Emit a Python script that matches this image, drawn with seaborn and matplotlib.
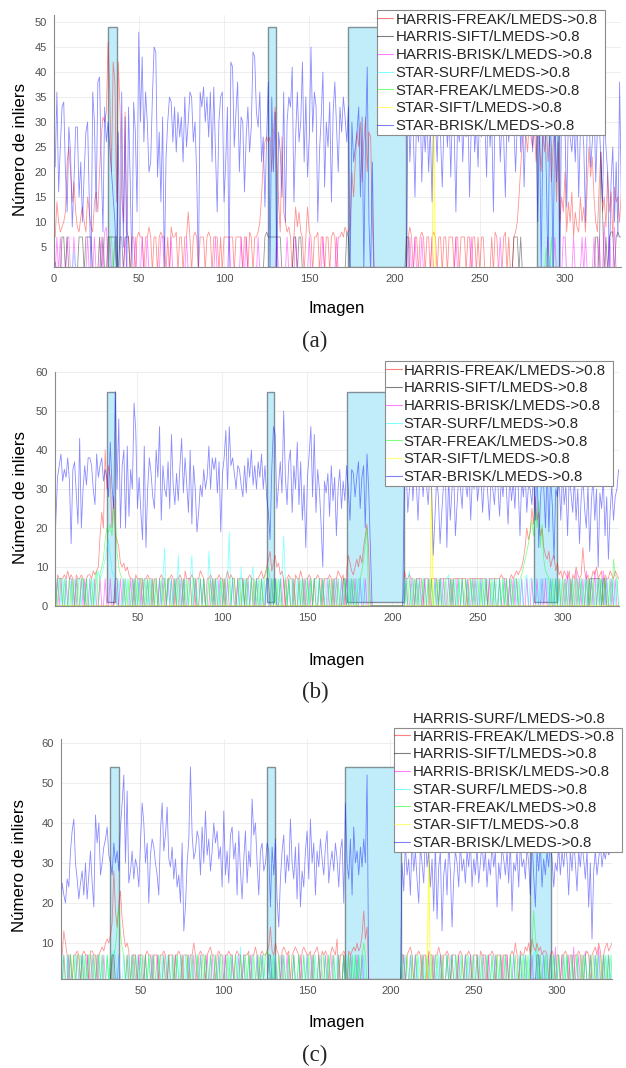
import numpy as np
import matplotlib
matplotlib.use("Agg")
import matplotlib.pyplot as plt
import seaborn as sns
from matplotlib.patches import Rectangle
from matplotlib.lines import Line2D
from matplotlib.transforms import IdentityTransform

W, H = 626, 1068

LABELS = [
    "HARRIS-FREAK/LMEDS->0.8",
    "HARRIS-SIFT/LMEDS->0.8",
    "HARRIS-BRISK/LMEDS->0.8",
    "STAR-SURF/LMEDS->0.8",
    "STAR-FREAK/LMEDS->0.8",
    "STAR-SIFT/LMEDS->0.8",
    "STAR-BRISK/LMEDS->0.8",
]
SURF_LABEL = "HARRIS-SURF/LMEDS->0.8"
COLORS = ["#ff0000", "#000000", "#ff00ff", "#00ffff", "#00ff00", "#ffff00", "#0000ff"]
ALPHAS = [0.42, 0.42, 0.45, 0.45, 0.45, 0.85, 0.45]

# image ranges highlighted in every panel
HIGHLIGHT_SPANS = [(32.0, 37.0), (126.0, 130.5), (173.0, 206.5), (283.5, 296.5)]
HIGHLIGHT_BOTTOM = 1
HIGHLIGHT_TOP = {"a": 49, "b": 55, "c": 54}

N_IMAGES = 333


def parse(text):
    return np.array(text.split(), dtype=float)


def from_pairs(pairs, n=N_IMAGES):
    y = np.zeros(n)
    for i, v in pairs:
        y[i - 1] = v
    return y


# ---------------- panel (a) ----------------
BLUE_A = parse("""
21 36 16 25 33 34 20 12 29 24
9 18 29 29 15 22 10 20 28 30
14 0 36 30 12 38 39 22 8 33
26 30 25 20 15 10 0 28 0 36
5 31 0 33 18 0 34 28 12 48
30 43 26 36 30 20 22 35 45 44
19 28 14 31 0 23 30 35 34 26
33 24 32 27 31 22 35 25 30 36
35 26 30 19 0 36 33 37 30 35
27 36 22 37 24 12 30 35 36 14
22 33 0 42 41 25 32 38 20 31
30 16 27 33 24 29 44 43 32 29
36 22 27 13 27 38 0 35 20 32
0 28 24 15 36 10 30 35 33 41
14 27 36 26 30 42 22 35 19 27
45 28 36 33 10 24 31 40 17 30
25 34 14 32 38 29 20 33 28 35
31 26 33 0 30 22 25 28 33 15
31 0 27 41 10 0 22 0 0 0
0 0 0 0 0 0 0 0 0 0
0 0 0 0 0 0 0 37 22 30
28 15 33 26 34 18 30 24 32 20
29 14 33 31 22 35 27 17 30 33
25 32 19 34 28 12 30 26 35 22
31 27 33 15 29 36 24 30 21 34
27 33 30 19 36 25 31 12 33 28
35 22 30 27 15 32 26 34 31 29
20 30 36 24 33 17 30 28 35 32
24 34 29 10 32 0 27 35 20 0
31 25 0 33 18 29 0 35 30 28
13 32 27 24 30 22 33 15 28 31
25 10 30 33 21 26 35 18 29 30
23 14 32 25 20 0 18 25 10 22
7 38 15
""")

RED_A = parse("""
7 14 10 8 9 10 12 22 25 20
14 18 12 9 8 11 13 10 8 15
12 9 8 14 16 12 20 27 31 30
32 46 36 20 42 38 14 42 33 15
10 32 8 7 0 7 7 0 7 8
7 7 0 7 7 9 7 0 7 7
0 7 8 7 7 0 7 0 9 7
7 8 0 7 7 0 7 7 12 7
0 7 8 7 0 7 7 7 0 7
8 7 0 7 7 7 0 7 0 7
7 7 7 7 7 0 7 7 7 7
0 7 7 0 8 7 0 7 7 8
10 15 22 26 27 26 27 20 28 33
22 14 8 27 12 10 8 9 7 0
7 13 9 12 8 7 0 7 13 8
7 0 7 7 8 0 7 7 0 7
7 0 7 8 7 0 7 7 8 7
9 8 8 9 20 15 22 28 25 30
18 26 31 20 28 27 10 0 0 0
0 0 0 0 0 0 0 0 0 0
0 0 0 0 0 0 0 7 9 7
0 7 7 0 7 8 7 0 7 7
0 7 8 7 0 7 7 0 7 7
0 7 7 7 0 7 7 0 7 7
7 0 7 7 0 7 7 0 7 0
7 7 0 0 0 0 7 0 8 7
0 0 0 7 8 0 7 0 0 7
8 10 15 21 26 30 28 24 30 27
25 29 22 30 26 20 28 24 30 22
27 18 25 29 14 26 10 15 12 20
8 14 10 16 7 12 9 8 15 10
13 8 17 25 19 23 15 10 8 17
24 12 15 9 20 12 16 7 17 14
15 10 16
""")

GRAY_A = from_pairs([
    (1, 2), (5, 7), (6, 7), (8, 7), (15, 7), (16, 7), (17, 7), (19, 7), (20, 7),
    (21, 7), (22, 7), (27, 7), (29, 7), (32, 7), (33, 7), (34, 7), (35, 7), (36, 7),
    (37, 7), (39, 7), (40, 7), (42, 7), (43, 7), (44, 7), (124, 7), (125, 8),
    (126, 7), (127, 7), (128, 7), (129, 7), (130, 7), (131, 7), (132, 7), (133, 7),
    (141, 7), (142, 7), (144, 7), (145, 7), (172, 8), (173, 7), (207, 7), (208, 7),
    (270, 7), (271, 7), (272, 7), (274, 7), (318, 7), (319, 7), (321, 24), (322, 12),
    (324, 7), (326, 7), (327, 8), (328, 8), (330, 7), (331, 8), (332, 7), (333, 7),
])
MAGENTA_A = from_pairs([
    (2, 7), (4, 7), (8, 7), (9, 7), (12, 7), (20, 7), (24, 7), (28, 7), (30, 8),
    (31, 9), (33, 7), (36, 7), (42, 7), (48, 7), (52, 7), (55, 7), (63, 7), (64, 7),
    (69, 7), (78, 7), (95, 7), (103, 7), (110, 7), (113, 7), (120, 7), (131, 7),
    (137, 7), (142, 7), (150, 7), (158, 7), (166, 7), (209, 7), (212, 7), (216, 7),
    (222, 7), (236, 7), (245, 7), (262, 7), (290, 7), (294, 7), (299, 7), (300, 7),
    (305, 7), (310, 7), (312, 7), (317, 7), (320, 7), (323, 10), (326, 7), (329, 9),
])
CYAN_A = from_pairs([(12, 4), (291, 3)])
GREEN_A = from_pairs([(33, 7), (34, 7), (36, 7), (289, 5), (292, 7)])
YELLOW_A = from_pairs([(223, 32)])

# ---------------- panel (b) ----------------
BLUE_B = parse("""
8 22 33 36 39 32 35 33 38 32
16 35 37 29 21 43 20 30 36 31
38 38 36 30 26 39 33 36 38 32
35 33 28 42 31 25 55 30 48 20
36 40 20 41 23 35 30 52 45 25
33 24 17 41 15 30 38 34 28 25
40 33 46 22 36 30 28 37 25 44
31 26 34 27 36 43 29 38 31 24
40 21 36 30 19 24 31 28 35 30
33 41 30 38 35 38 29 37 19 34
38 45 30 46 36 38 34 30 36 35
31 28 36 29 38 33 40 31 36 30
37 33 39 30 36 28 24 17 35 46
44 25 31 37 29 50 33 26 37 40
24 36 30 42 26 37 22 31 15 33
39 46 28 44 24 35 30 21 10 32
29 34 23 36 27 33 18 30 35 25
32 27 36 30 22 35 34 28 33 37
25 33 36 20 39 30 15 0 0 0
0 0 0 0 0 0 0 0 0 0
0 0 0 0 0 0 33 36 24 30
38 27 35 32 22 33 36 28 35 31
26 34 30 13 23 33 28 16 24 31
36 15 33 22 30 35 18 26 34 30
25 37 31 28 35 22 33 30 36 27
31 34 24 32 36 29 22 33 30 26
35 31 23 33 28 36 30 21 34 27
32 25 36 30 18 33 28 35 24 31
30 26 35 22 38 15 27 34 30 20
36 19 33 26 12 30 28 33 22 35
26 31 18 34 29 24 33 22 30 16
28 33 25 20 31 14 27 33 22 30
10 29 25 33 18 28 12 24 31 22
28 30 35
""")

RED_B = parse("""
7 0 8 7 7 7 8 7 9 7
8 7 0 8 7 7 8 7 0 7
8 8 7 9 8 9 10 18 24 20
40 30 36 33 20 28 18 17 15 11
10 11 9 10 8 7 7 0 8 7
7 7 0 7 7 8 7 7 0 7
7 0 7 8 7 7 0 7 7 8
7 0 7 7 8 7 0 9 7 7
7 8 7 0 7 7 9 8 7 0
7 7 8 7 0 7 7 8 7 7
0 7 9 7 8 7 7 0 7 7
7 7 0 7 7 8 7 7 0 7
7 8 9 7 8 10 12 14 9 11
13 10 11 8 9 7 0 7 8 7
7 0 8 7 7 9 7 0 7 7
8 7 0 7 7 8 7 7 0 7
7 7 8 7 0 7 7 9 8 7
8 0 9 13 11 9 8 10 12 10
13 11 15 18 21 14 0 0 0 0
0 0 0 0 0 0 0 0 0 0
0 0 0 0 0 0 9 7 7 8
7 7 0 7 7 7 7 0 7 7
7 0 7 7 7 7 0 7 7 7
7 7 7 7 0 7 7 7 7 7
7 7 7 0 7 7 7 7 7 7
7 7 7 7 7 0 7 7 7 7
7 7 7 8 7 7 7 0 7 8
7 8 9 8 9 10 12 15 20 17
19 25 21 28 22 24 18 20 15 13
12 14 10 12 13 9 11 8 9 7
9 8 7 9 0 8 7 10 8 7
8 15 9 7 8 0 7 9 8 10
7 8 9 0 8 7 7 9 8 7
9 8 7
""")

GREEN_B = parse("""
0 7 0 7 7 0 7 0 0 7
0 7 0 0 7 0 7 7 0 7
0 0 7 0 7 9 0 8 10 12
17 20 19 21 18 25 22 14 10 8
7 0 7 0 7 0 0 7 0 7
0 7 7 0 7 0 7 0 7 0
7 0 0 7 0 7 0 7 7 0
0 7 0 7 0 0 7 0 7 0
7 0 7 7 0 0 7 0 7 0
0 7 0 7 0 7 0 0 7 0
7 0 0 7 0 7 7 0 0 7
0 7 0 7 0 0 7 0 7 0
7 0 7 0 8 9 10 7 0 7
0 7 0 7 0 0 7 0 7 0
0 7 0 0 7 0 7 0 0 7
0 7 0 7 0 0 7 0 7 0
0 0 7 0 7 0 0 7 0 0
0 7 0 0 7 0 7 0 0 7
7 9 12 16 20 0 0 0 0 0
0 0 0 0 0 0 0 0 0 0
0 0 0 0 0 0 0 7 0 7
0 0 7 0 7 0 0 7 0 0
7 0 7 0 0 7 0 7 0 0
7 0 0 7 0 7 0 0 7 0
7 0 7 0 0 7 0 7 0 0
7 0 7 0 7 0 0 7 0 7
0 0 7 0 7 0 7 0 0 7
0 7 7 0 7 8 10 12 14 16
19 22 18 25 20 27 15 21 12 9
8 7 0 7 0 7 0 7 0 7
0 7 0 0 7 0 7 0 7 0
7 0 0 7 0 7 0 7 0 0
7 0 7 0 7 0 0 7 0 12
8 7 0
""")

CYAN_B = parse("""
7 0 7 7 0 7 0 7 0 0
7 0 7 0 7 7 0 7 0 7
0 7 0 7 0 7 9 7 8 10
12 15 17 13 9 8 7 0 7 0
0 7 0 7 0 0 7 0 7 0
7 0 0 7 0 7 0 7 0 0
7 0 7 0 7 15 0 7 0 7
0 7 0 13 0 7 0 7 0 0
7 13 0 7 0 7 7 0 7 0
0 14 7 0 7 0 7 0 7 0
7 0 7 19 0 7 0 0 7 0
10 0 7 0 7 0 7 10 0 7
0 7 0 7 0 7 0 0 7 0
7 0 7 0 8 18 7 0 7 0
7 0 0 7 0 7 0 7 0 7
0 7 0 7 7 0 7 0 7 0
7 0 7 0 0 7 0 7 0 7
0 7 0 7 0 7 0 0 7 0
7 0 7 0 0 0 0 0 0 0
0 0 0 0 0 0 0 0 0 0
0 0 0 0 0 0 7 0 7 9
0 7 0 7 0 7 0 7 7 0
7 0 7 0 7 0 7 0 7 0
0 7 8 0 7 0 7 0 7 0
7 0 0 7 0 7 0 7 0 7
0 7 0 7 0 7 7 0 7 0
7 0 7 0 7 0 7 0 7 0
0 7 0 7 0 7 0 7 8 0
7 7 0 7 0 0 7 0 7 7
7 0 7 0 7 0 7 0 7 0
0 7 0 7 0 7 0 0 7 0
7 0 7 0 7 0 7 0 0 7
0 7 0 7 0 7 0 7 0 7
0 7 0
""")

MAGENTA_B = parse("""
0 0 7 0 7 0 0 7 0 7
7 0 0 7 0 0 7 0 7 0
0 7 0 0 7 0 0 7 0 0
7 0 0 7 0 0 7 0 0 7
0 7 0 0 0 7 0 7 0 0
7 0 7 0 0 7 0 0 7 0
0 0 7 0 7 0 0 7 0 7
0 7 0 0 7 0 7 0 0 7
7 0 0 7 0 0 7 0 7 0
0 0 7 0 7 0 0 7 0 0
7 0 7 0 0 7 0 0 7 0
0 7 0 0 7 0 7 0 0 7
0 0 7 0 0 7 0 0 7 0
7 0 0 7 0 7 0 0 7 0
0 7 0 0 7 0 0 7 0 0
7 0 0 7 0 0 7 0 7 0
0 7 0 0 7 0 7 0 0 7
0 0 7 0 0 7 0 7 0 0
7 0 0 7 0 0 0 0 0 0
0 0 0 0 0 0 0 0 0 0
0 0 0 0 0 0 0 7 0 0
7 0 0 7 0 7 0 0 7 0
0 7 0 0 7 0 0 7 0 7
0 0 7 0 7 0 0 7 0 0
7 0 0 7 0 0 7 0 7 0
0 7 0 0 7 0 7 0 0 7
0 0 7 0 0 7 0 0 7 0
7 0 7 0 0 7 0 0 7 0
0 7 0 0 7 0 0 7 0 7
0 0 7 0 0 7 0 7 0 0
7 0 9 0 7 0 0 9 0 7
0 7 0 9 0 0 7 0 9 0
7 0 0 9 0 7 0 0 7 0
7 0 0
""")

GRAY_B = from_pairs([
    (37, 7), (38, 7), (126, 7), (127, 7), (131, 7), (171, 7), (172, 7),
    (316, 7), (317, 7), (318, 7), (319, 7), (320, 7), (321, 7), (322, 7),
    (324, 7), (325, 7),
])
YELLOW_B = from_pairs([(223, 31)])

# ---------------- panel (c) ----------------
BLUE_C = parse("""
36 16 25 22 20 26 24 33 38 41
30 26 21 25 28 22 30 21 27 33
25 19 42 35 40 27 30 34 36 39
32 30 27 35 30 33 28 39 45 52
30 48 25 28 33 26 31 29 24 35
45 40 30 35 20 32 36 34 30 27
22 38 45 33 37 44 31 29 34 26
31 24 27 20 35 13 19 30 36 54
37 31 33 38 36 27 39 30 43 32
36 28 33 40 35 38 31 34 24 43
27 33 25 37 39 31 35 22 38 28
21 31 38 25 33 29 46 37 40 30
22 33 35 28 30 35 33 19 34 27
36 21 14 26 33 37 25 32 28 41
30 26 34 21 35 19 28 24 33 38
26 41 30 35 22 33 29 36 31 27
34 38 25 30 33 28 35 31 24 33
36 20 45 30 26 36 22 39 30 33
27 34 29 36 30 52 0 0 0 0
0 0 0 0 0 0 0 0 0 0
0 0 0 0 0 0 30 23 35 27
31 22 36 28 33 26 20 34 30 25
37 29 33 24 31 18 35 16 29 33
13 27 31 22 35 28 14 26 33 30
24 35 28 31 25 33 29 36 24 31
27 34 25 30 36 28 33 24 31 27
35 29 33 19 30 26 34 31 27 33
25 36 18 30 28 33 24 35 29 31
26 34 30 22 36 27 19 33 28 35
24 31 27 33 29 36 31 24 30 28
34 27 33 29 35 31 22 33 28 36
30 23 33 29 35 31 26 33 19 30
11 28 33 27 31 35 29 33 31 34
32 33 33
""")

RED_C = parse("""
0 7 7 13 10 7 0 7 0 7
7 8 7 0 7 8 7 7 0 8
8 7 7 0 7 8 9 8 10 11
10 12 15 28 18 14 20 23 16 12
9 10 8 0 7 7 7 0 7 7
7 0 7 8 7 7 0 7 7 7
0 7 7 8 7 0 7 7 7 0
7 7 8 7 0 7 7 7 0 7
7 10 7 0 7 8 7 7 0 7
8 9 7 7 0 7 8 7 7 0
7 7 8 7 7 0 7 8 7 7
0 7 7 7 8 0 7 7 9 7
0 7 8 7 7 8 9 14 8 7
10 8 7 0 8 9 8 7 8 0
7 8 9 8 7 0 8 9 8 7
7 8 0 7 8 9 7 0 8 7
8 7 0 7 9 8 7 11 0 7
7 8 7 0 8 7 8 9 8 10
8 9 12 18 11 14 0 0 0 0
0 0 0 0 0 0 0 0 0 0
0 0 0 0 0 0 7 7 0 7
8 9 7 0 7 7 8 7 0 7
7 0 8 7 7 0 7 7 9 7
0 7 7 8 7 0 7 7 7 0
7 8 7 0 7 7 8 7 0 7
7 7 0 8 7 7 7 0 7 7
8 7 0 7 7 7 0 7 7 7
0 7 8 7 10 7 0 8 7 7
9 8 10 7 11 9 8 10 8 9
7 8 8 7 0 7 8 7 0 7
7 0 7 7 8 7 0 7 7 0
7 7 8 7 0 7 7 8 7 0
7 8 9 7 10 8 0 7 9 10
8 9 10
""")

GREEN_C = parse("""
0 7 0 7 0 0 7 7 0 7
0 7 7 0 7 0 7 0 7 7
0 7 0 7 7 0 7 0 0 7
0 7 0 7 9 14 19 12 9 7
0 7 0 0 7 0 7 0 0 7
0 0 7 0 7 0 0 7 0 0
7 0 0 7 0 0 7 0 0 7
0 7 0 0 7 0 0 7 0 0
7 0 0 7 0 0 7 0 7 0
0 7 0 0 7 0 0 7 0 0
0 7 0 7 0 0 7 0 0 7
0 0 7 0 7 0 0 7 0 0
7 0 7 0 7 8 7 0 0 7
0 0 7 0 0 7 0 0 7 0
0 7 0 0 7 0 0 7 0 0
7 0 0 7 0 0 7 0 0 7
0 0 7 0 0 7 0 0 7 0
0 7 0 0 7 0 7 0 7 0
7 0 7 10 7 0 0 0 0 0
0 0 0 0 0 0 0 0 0 0
0 0 0 0 0 0 7 0 0 7
0 0 7 0 0 7 0 0 7 0
0 7 0 0 7 0 0 7 0 0
7 0 0 7 0 0 7 0 0 7
0 0 7 0 0 7 0 0 7 0
0 7 0 0 7 0 0 7 0 0
7 0 0 7 0 7 0 0 7 0
0 7 0 0 7 0 0 7 0 7
0 7 0 7 9 18 12 7 0 7
0 0 7 0 0 7 0 7 0 0
7 0 0 7 0 7 0 0 7 0
0 7 0 0 7 0 7 0 0 7
0 7 0 7 0 0 7 0 7 0
7 0 7
""")

CYAN_C = parse("""
7 0 7 0 0 7 0 7 0 0
7 0 0 7 0 7 0 0 7 0
0 7 0 0 7 0 7 0 0 7
0 7 7 8 7 0 7 0 0 7
0 0 7 0 7 0 0 7 0 7
0 7 0 0 7 0 7 0 0 0
7 0 7 0 0 7 0 0 7 0
0 7 0 7 0 0 7 0 7 0
7 0 0 7 0 7 0 0 7 0
0 7 0 0 7 0 7 0 0 7
0 0 7 0 7 0 0 7 0 9
0 7 0 0 7 0 7 0 0 7
0 7 0 7 0 0 7 0 7 0
7 0 0 7 0 7 0 0 7 0
0 7 0 0 7 0 0 7 0 7
0 0 7 0 7 0 0 7 0 0
7 0 7 0 0 7 0 7 0 0
0 7 0 7 0 0 7 0 7 0
7 0 0 7 0 0 0 0 0 0
0 0 0 0 0 0 0 0 0 0
0 0 0 0 0 0 7 0 7 0
0 7 0 0 7 0 7 0 0 7
0 7 0 7 0 0 7 0 7 0
7 0 0 7 0 7 0 0 7 0
0 7 0 0 7 0 7 0 0 7
0 0 7 0 7 0 0 7 0 0
7 0 7 0 0 7 0 0 7 0
0 7 0 7 0 0 7 0 7 0
7 0 7 0 0 7 8 0 7 0
0 7 0 7 0 0 7 0 7 0
7 0 0 7 0 7 0 0 7 0
0 7 0 0 7 0 7 0 0 7
0 0 7 0 7 0 0 7 0 7
0 7 0
""")

MAGENTA_C = parse("""
7 0 0 7 0 0 7 0 0 0
0 7 0 0 7 0 0 7 0 0
7 0 0 7 0 0 0 7 0 0
0 0 7 0 0 0 7 0 0 0
0 7 0 0 0 7 0 0 7 0
0 0 7 0 0 0 7 0 0 7
0 0 0 7 0 0 7 0 0 0
7 0 0 0 7 0 0 0 7 0
0 7 0 0 0 7 0 0 0 7
0 0 7 0 0 0 7 0 0 0
7 0 0 0 7 0 0 0 7 0
0 7 0 0 0 7 0 0 0 7
0 0 7 0 0 0 7 0 0 0
7 0 0 0 7 0 0 7 0 0
0 7 0 0 0 7 0 0 0 7
0 0 7 0 0 0 7 0 0 0
7 0 0 0 7 0 0 0 7 0
0 7 0 0 0 7 0 0 0 7
0 0 7 0 0 0 0 0 0 0
0 0 0 0 0 0 0 0 0 0
0 0 0 0 0 0 0 7 0 0
0 7 0 0 7 0 0 0 7 0
0 0 7 0 0 7 0 0 0 7
0 0 0 7 0 0 7 0 0 0
7 0 0 0 7 0 0 7 0 0
0 7 0 0 0 7 0 0 7 0
0 0 7 0 0 0 7 0 0 7
0 0 0 7 0 0 0 7 0 0
7 0 0 0 7 0 0 0 7 0
0 7 0 0 0 7 0 0 9 0
0 0 7 0 0 0 7 0 0 9
0 0 7 0 0 0 8 0 0 7
0 0 7 0 9 0 0 7 0 0
7 0 0
""")

GRAY_C = from_pairs([(33, 7), (34, 7), (127, 7), (128, 7), (172, 7), (288, 7), (289, 7)])
YELLOW_C = from_pairs([(223, 33)])

# ---------------- layout (pixel boxes: left, top, right, bottom) ----------------
PANELS = [
    dict(key="a",
         series=[RED_A, GRAY_A, MAGENTA_A, CYAN_A, GREEN_A, YELLOW_A, BLUE_A],
         box=(53.5, 14.5, 621.3, 267.0), xlim=(0, 333), ylim=(1, 51.5),
         xticks=list(range(0, 301, 50)), yticks=list(range(5, 51, 5)),
         legend_at=(377.0, 12.6), surf_entry=False,
         ylabel_at=(21, 149), xlabel_at=(337, 308), caption="(a)", caption_at=(315, 341)),
    dict(key="b",
         series=[RED_B, GRAY_B, MAGENTA_B, CYAN_B, GREEN_B, YELLOW_B, BLUE_B],
         box=(55.0, 372.0, 618.6, 606.0), xlim=(1.5, 333), ylim=(0, 60),
         xticks=list(range(50, 301, 50)), yticks=list(range(0, 61, 10)),
         legend_at=(385.5, 363.6), surf_entry=False,
         ylabel_at=(21, 498), xlabel_at=(337, 660), caption="(b)", caption_at=(315, 692)),
    dict(key="c",
         series=[RED_C, GRAY_C, MAGENTA_C, CYAN_C, GREEN_C, YELLOW_C, BLUE_C],
         box=(60.5, 739.0, 612.0, 979.0), xlim=(2, 333), ylim=(1, 61),
         xticks=list(range(50, 301, 50)), yticks=list(range(10, 61, 10)),
         legend_at=(394.0, 711.9), surf_entry=True,
         ylabel_at=(20, 865), xlabel_at=(337, 1023), caption="(c)", caption_at=(315, 1055)),
]

sns.set_theme(style="white")
plt.rcParams["font.family"] = ["Liberation Sans", "DejaVu Sans"]

fig = plt.figure(figsize=(W / 100, H / 100), dpi=100)
fig.patch.set_facecolor("white")

legends = []
for p in PANELS:
    l, t, r, b = p["box"]
    ax = fig.add_axes([l / W, 1 - b / H, (r - l) / W, (b - t) / H])
    ax.set_facecolor("white")

    top = HIGHLIGHT_TOP[p["key"]]
    for x0, x1 in HIGHLIGHT_SPANS:
        ax.add_patch(Rectangle((x0, HIGHLIGHT_BOTTOM), x1 - x0, top - HIGHLIGHT_BOTTOM,
                               facecolor="#c1edfb", edgecolor="#7f9197", lw=1.0, zorder=1.5))

    for y, color, alpha in zip(p["series"], COLORS, ALPHAS):
        x = np.arange(1, len(y) + 1)
        sns.lineplot(x=x, y=y, ax=ax, color=color, linewidth=0.6, alpha=alpha,
                     estimator=None, sort=False, legend=False, zorder=2)

    ax.set_xlim(*p["xlim"])
    ax.set_ylim(*p["ylim"])
    ax.set_xticks(p["xticks"])
    ax.set_yticks(p["yticks"])
    ax.tick_params(direction="in", length=3, width=0.6, color="#808080",
                   labelsize=8, labelcolor="#505050", pad=5)
    ax.grid(True, color="#ebebeb", lw=0.6)
    ax.set_axisbelow(True)
    for s in ("top", "right"):
        ax.spines[s].set_visible(False)
    for s in ("left", "bottom"):
        ax.spines[s].set_color("#8a8a8a")
        ax.spines[s].set_linewidth(0.8)

    ax.set_xlabel("Imagen", fontsize=12.2, color="black")
    ax.set_ylabel("Número de inliers", fontsize=12.2, color="black")
    ax.xaxis.set_label_coords(p["xlabel_at"][0] / W, 1 - p["xlabel_at"][1] / H, transform=fig.transFigure)
    ax.yaxis.set_label_coords(p["ylabel_at"][0] / W, 1 - p["ylabel_at"][1] / H, transform=fig.transFigure)
    ax.xaxis.label.set_va("center")
    ax.yaxis.label.set_va("center")

    fig.text(p["caption_at"][0] / W, 1 - p["caption_at"][1] / H, p["caption"],
             family="Liberation Serif", fontsize=16.5, ha="center", va="center")

    handles = [Line2D([], [], color=c, lw=0.8, alpha=0.5) for c in COLORS]
    labels = list(LABELS)
    if p["surf_entry"]:
        handles = [Line2D([], [], color="white", lw=0.8)] + handles
        labels = [SURF_LABEL] + labels
    lx, ly = p["legend_at"]
    leg = fig.legend(handles, labels, loc="upper left",
                     bbox_to_anchor=(lx / W, 1 - ly / H), bbox_transform=fig.transFigure,
                     frameon=False, borderpad=0, borderaxespad=0,
                     handlelength=1.07, handletextpad=0.15, labelspacing=0.25,
                     prop={"family": "Liberation Sans", "size": 10.8})
    leg.set_zorder(6)
    legends.append((leg, p["surf_entry"]))

# legend boxes: white background with a thin grey border
fig.canvas.draw()
renderer = fig.canvas.get_renderer()
for leg, surf_entry in legends:
    box = leg.get_window_extent(renderer)
    texts = [t.get_window_extent(renderer) for t in leg.get_texts()]
    centers = [(tb.y0 + tb.y1) / 2 for tb in texts]
    right = max(tb.x1 for tb in texts) + 7.5
    left = box.x0 - 0.5
    if surf_entry:
        top_y = (centers[0] + centers[1]) / 2
    else:
        top_y = centers[0] + 9.3
    bottom_y = centers[-1] - 8.6
    frame = Rectangle((left, bottom_y), right - left, top_y - bottom_y,
                      transform=IdentityTransform(), facecolor="white",
                      edgecolor="#8c8c8c", lw=0.8, zorder=5)
    fig.add_artist(frame)
    frame.set_transform(IdentityTransform())

fig.savefig("out.png", dpi=100, facecolor="white")
